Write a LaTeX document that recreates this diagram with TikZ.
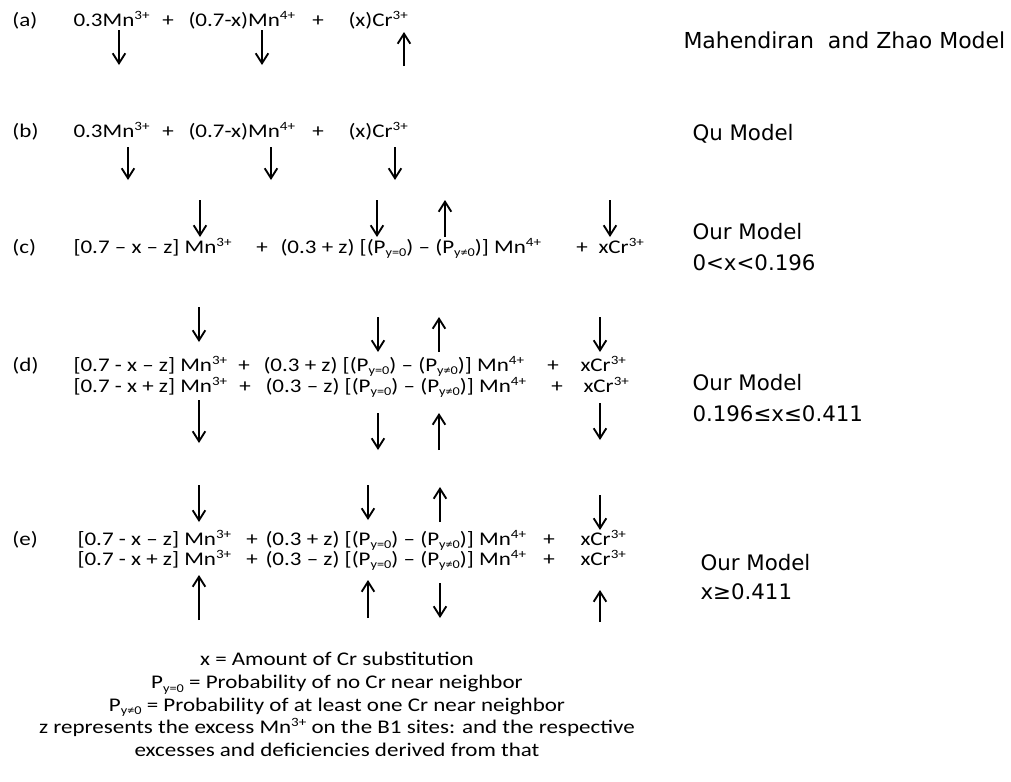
\documentclass[tikz,border=0pt]{standalone}
\usepackage{fontspec}
\usetikzlibrary{arrows.meta}
\newfontfamily\eqfont{Carlito}[FakeStretch=1.19]
\newfontfamily\lblfont{DejaVu Sans}
\newcommand\upidx[1]{\raisebox{0.36em}{\fontsize{9.5}{9.5}\selectfont #1}}
\newcommand\dnidx[1]{\raisebox{-0.2em}{\fontsize{9}{9}\selectfont #1}}

\tikzset{every picture/.style={line width=0.75pt}}
\tikzset{
  eq/.style={font=\eqfont\fontsize{14.5}{16.9}\selectfont, inner sep=0pt, anchor=base west},
  eqplus/.style={eq, anchor=base},
  model/.style={font=\lblfont\fontsize{16}{20}\selectfont, inner sep=0pt, anchor=base west},
  spin/.style={line width=1.4pt, -{Straight Barb[length=7.5pt,width=9.5pt]}}
}

\begin{document}
\begin{tikzpicture}[x=0.75pt,y=0.75pt,yscale=-1,xscale=1]
\useasboundingbox (0,0) rectangle (1011,782);

% Row (a)
\draw (12,26) node [eq] (labA) {(a)};
\draw (73,26) node [eq] (a1) {0.3Mn\upidx{3+}};
\draw (168,26) node [eqplus] (a2) {+};
\draw (188,26) node [eq] (a3) {(0.7-x)Mn\upidx{4+}};
\draw (318,26) node [eqplus] (a4) {+};
\draw (348,26) node [eq] (a5) {(x)Cr\upidx{3+}};
%Arrows (a)
\draw [spin] (119,30) -- (119,65) ;
\draw [spin] (262,30) -- (262,65) ;
\draw [spin] (404,66) -- (404,32) ;

% Row (b)
\draw (12,137) node [eq] (labB) {(b)};
\draw (73,137) node [eq] (b1) {0.3Mn\upidx{3+}};
\draw (168,137) node [eqplus] (b2) {+};
\draw (188,137) node [eq] (b3) {(0.7-x)Mn\upidx{4+}};
\draw (318,137) node [eqplus] (b4) {+};
\draw (348,137) node [eq] (b5) {(x)Cr\upidx{3+}};
%Arrows (b)
\draw [spin] (128,147) -- (128,180) ;
\draw [spin] (271,147) -- (271,180) ;
\draw [spin] (395,147) -- (395,180) ;

% Row (c)
\draw (12,253) node [eq] (labC) {(c)};
\draw (73,253) node [eq] (c1) {[0.7 – x – z] Mn\upidx{3+}};
\draw (262,253) node [eqplus] (c2) {+};
\draw (280,253) node [eq] (c3) {(0.3 + z) [(P\dnidx{y=0}) – (P\dnidx{y≠0})] Mn\upidx{4+}};
\draw (582,253) node [eqplus] (c4) {+};
\draw (598,253) node [eq] (c5) {xCr\upidx{3+}};
%Arrows (c)
\draw [spin] (200,200) -- (200,237) ;
\draw [spin] (377,200) -- (377,237) ;
\draw [spin] (445,237) -- (445,200) ;
\draw [spin] (610,200) -- (610,237) ;

% Row (d)
\draw (12,371) node [eq] (labD) {(d)};
\draw (73,371) node [eq] (d1) {[0.7 - x – z] Mn\upidx{3+}};
\draw (244,371) node [eqplus] (d2) {+};
\draw (263,371) node [eq] (d3) {(0.3 + z) [(P\dnidx{y=0}) – (P\dnidx{y≠0})] Mn\upidx{4+}};
\draw (553,371) node [eqplus] (d4) {+};
\draw (580,371) node [eq] (d5) {xCr\upidx{3+}};
\draw (73,392) node [eq] (d6) {[0.7 - x + z] Mn\upidx{3+}};
\draw (245,392) node [eqplus] (d7) {+};
\draw (265,392) node [eq] (d8) {(0.3 – z) [(P\dnidx{y=0}) – (P\dnidx{y≠0})] Mn\upidx{4+}};
\draw (557,392) node [eqplus] (d9) {+};
\draw (583,392) node [eq] (d10) {xCr\upidx{3+}};
%Arrows (d)
\draw [spin] (199,307) -- (199,342) ;
\draw [spin] (378,317) -- (378,352) ;
\draw [spin] (439,352) -- (439,317) ;
\draw [spin] (600,317) -- (600,352) ;
\draw [spin] (199,400) -- (199,443) ;
\draw [spin] (378,413) -- (378,450) ;
\draw [spin] (439,450) -- (439,413) ;
\draw [spin] (600,403) -- (600,440) ;

% Row (e)
\draw (12,545) node [eq] (labE) {(e)};
\draw (77,545) node [eq] (e1) {[0.7 - x – z] Mn\upidx{3+}};
\draw (252,545) node [eqplus] (e2) {+};
\draw (265,545) node [eq] (e3) {(0.3 + z) [(P\dnidx{y=0}) – (P\dnidx{y≠0})] Mn\upidx{4+}};
\draw (549,545) node [eqplus] (e4) {+};
\draw (580,545) node [eq] (e5) {xCr\upidx{3+}};
\draw (77,565) node [eq] (e6) {[0.7 - x + z] Mn\upidx{3+}};
\draw (252,565) node [eqplus] (e7) {+};
\draw (265,565) node [eq] (e8) {(0.3 – z) [(P\dnidx{y=0}) – (P\dnidx{y≠0})] Mn\upidx{4+}};
\draw (549,565) node [eqplus] (e9) {+};
\draw (580,565) node [eq] (e10) {xCr\upidx{3+}};
%Arrows (e)
\draw [spin] (199,485) -- (199,522) ;
\draw [spin] (368,485) -- (368,520) ;
\draw [spin] (440,522) -- (440,487) ;
\draw [spin] (600,495) -- (600,530) ;
\draw [spin] (199,620) -- (199,575) ;
\draw [spin] (368,618) -- (368,580) ;
\draw [spin] (440,583) -- (440,618) ;
\draw [spin] (600,622) -- (600,590) ;

% Model names
\draw (683,48) node [model, font=\lblfont\fontsize{16.5}{20}\selectfont] (mzModel) {Mahendiran~ and Zhao Model};
\draw (692,140) node [model] (quModel) {Qu Model};
\draw (692,239) node [model] (ourC) {Our Model};
\draw (692,270) node [model] (rangeC) {0<x<0.196};
\draw (692,390) node [model] (ourD) {Our Model};
\draw (692,421) node [model] (rangeD) {0.196≤x≤0.411};
\draw (700,570) node [model] (ourE) {Our Model};
\draw (700,599) node [model] (rangeE) {x≥0.411};

% Legend
\draw (337,652) node [eq, anchor=north, align=center] (legend) {x = Amount of Cr substitution\\
P\dnidx{y=0} = Probability of no Cr near neighbor\\
P\dnidx{y≠0} = Probability of at least one Cr near neighbor\\
z represents the excess Mn\upidx{3+} on the B1 sites: and the respective\\
excesses and deficiencies derived from that};

\end{tikzpicture}
\end{document}
